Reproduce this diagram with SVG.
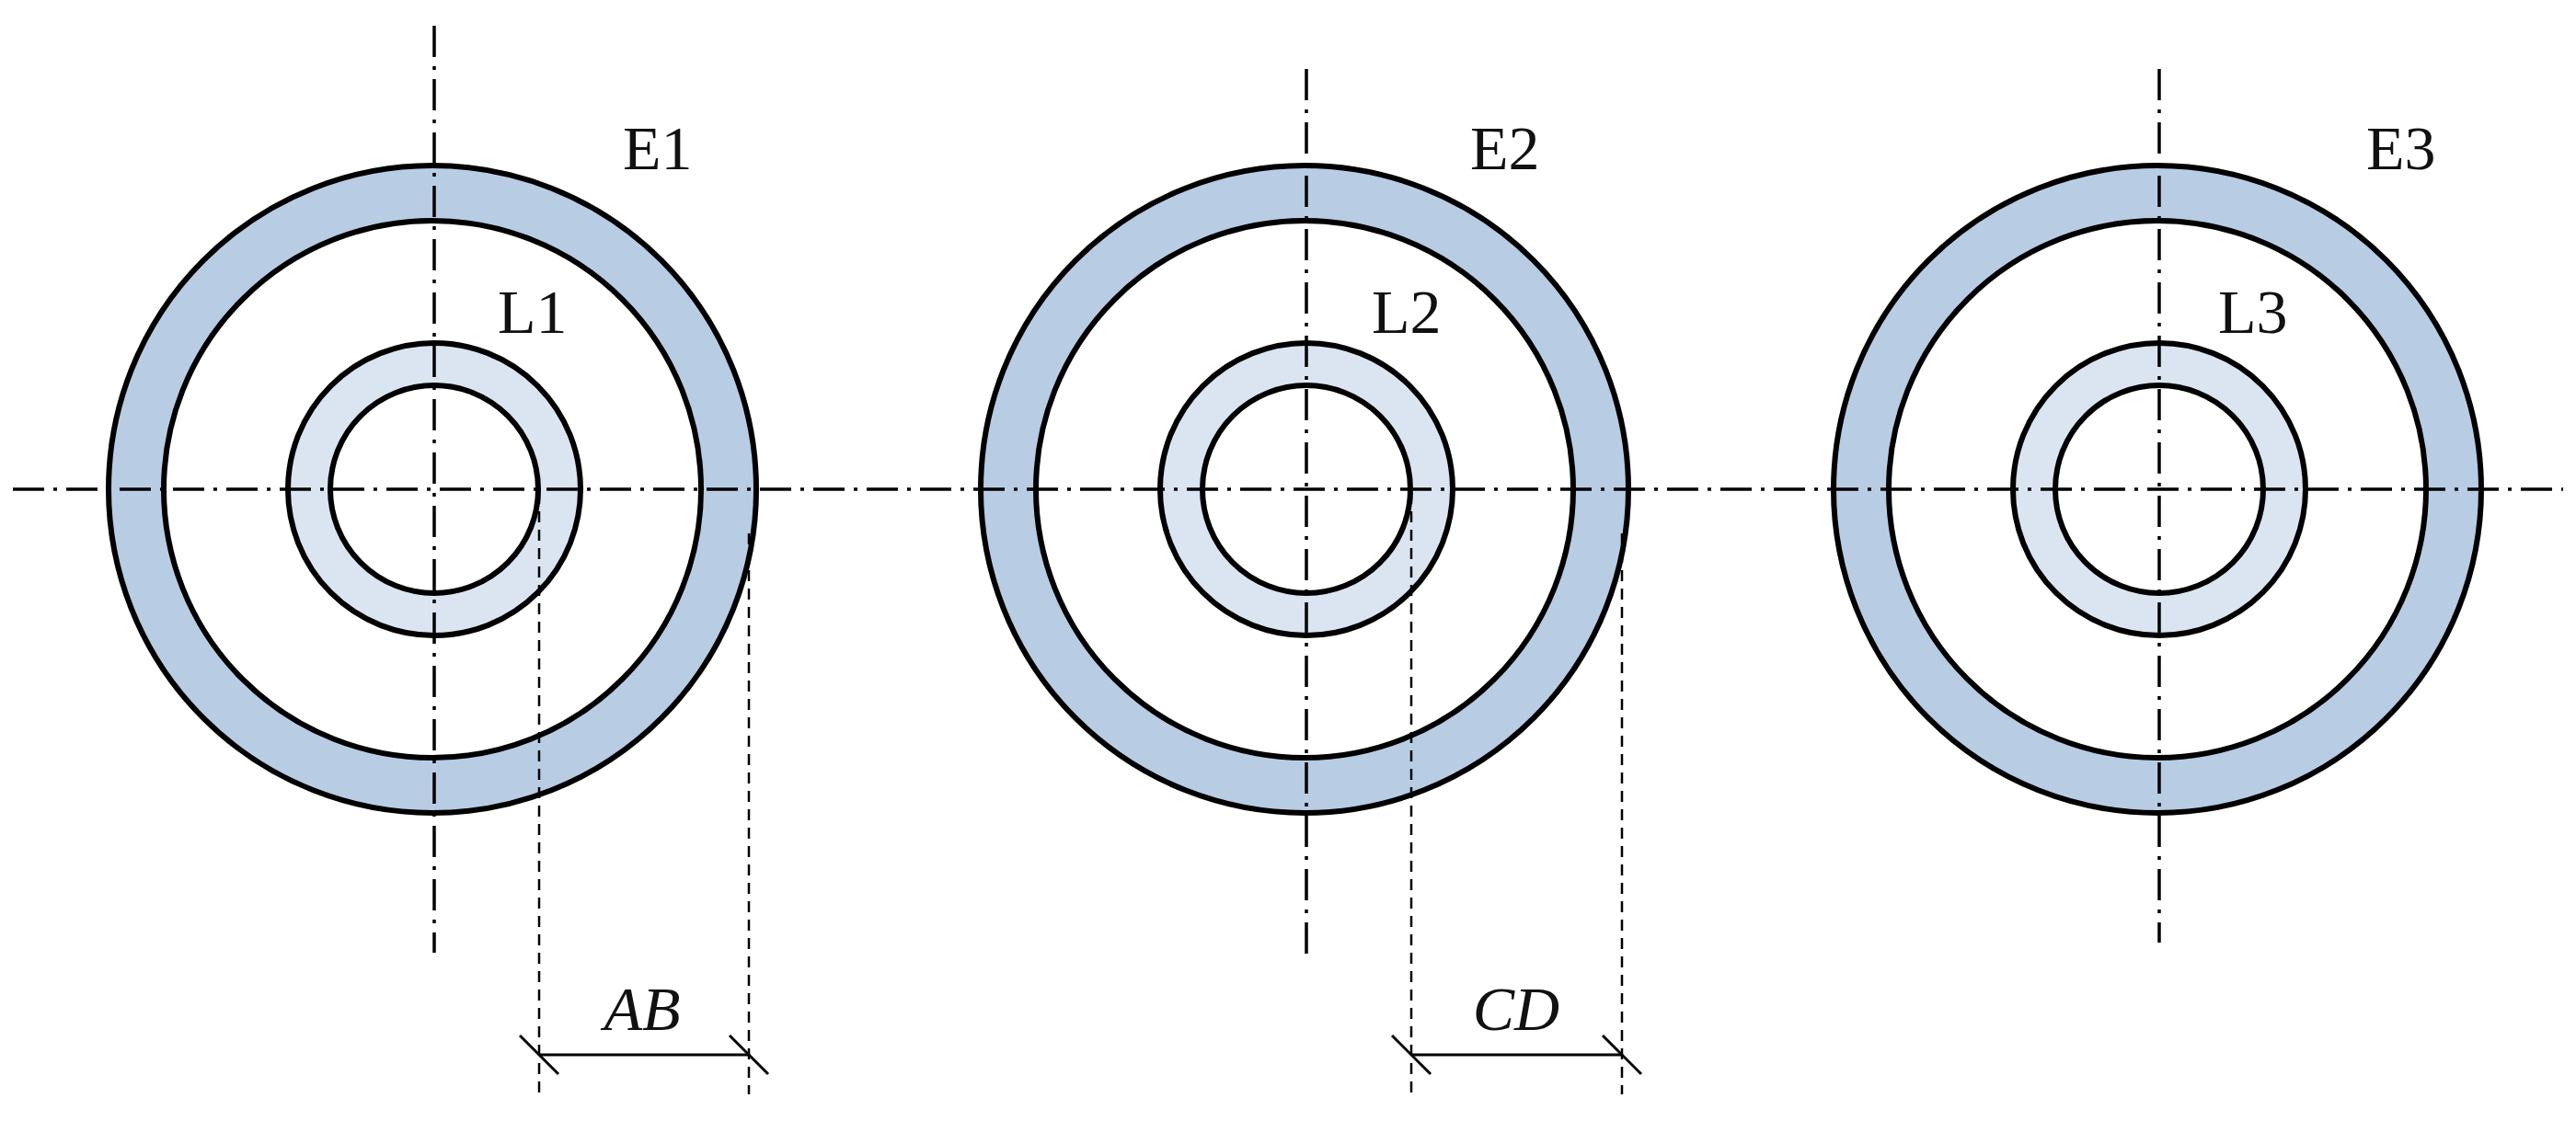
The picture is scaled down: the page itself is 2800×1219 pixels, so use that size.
<svg xmlns="http://www.w3.org/2000/svg" width="2800" height="1219" viewBox="0 0 2800 1219">
<style>
.o{fill:#b8cce4;stroke:#000;stroke-width:6}
.w{fill:#fff;stroke:#000;stroke-width:6}
.l{fill:#dbe5f1;stroke:#000;stroke-width:6}
.c{stroke:#000;stroke-width:3.5;stroke-dasharray:34 10 4 10;fill:none}
.d{stroke:#000;stroke-width:2.5;stroke-dasharray:12 8;fill:none}
.t{font-family:"Liberation Serif",serif;font-size:68px;fill:#111}
.i{font-family:"Liberation Serif",serif;font-size:68px;font-style:italic;fill:#111}
.s{stroke:#000;stroke-width:3;fill:none}
</style>
<g id="pipe1"><circle class="o" cx="470" cy="532" r="352"/><circle class="w" cx="470" cy="532" r="292"/><circle class="l" cx="472" cy="532" r="159"/><circle class="w" cx="472" cy="532" r="113"/><text class="t" x="677" y="184">E1</text><text class="t" x="541" y="362">L1</text></g>
<g id="pipe2"><circle class="o" cx="1418" cy="532" r="352"/><circle class="w" cx="1418" cy="532" r="292"/><circle class="l" cx="1420" cy="532" r="159"/><circle class="w" cx="1420" cy="532" r="113"/><text class="t" x="1598" y="184">E2</text><text class="t" x="1491" y="362">L2</text></g>
<g id="pipe3"><circle class="o" cx="2345" cy="532" r="352"/><circle class="w" cx="2345" cy="532" r="292"/><circle class="l" cx="2347" cy="532" r="159"/><circle class="w" cx="2347" cy="532" r="113"/><text class="t" x="2572" y="184">E3</text><text class="t" x="2411" y="362">L3</text></g>
<g id="connectors">
<line class="c" x1="14" y1="532" x2="2786" y2="532"/>
<line class="c" x1="472" y1="28" x2="472" y2="1036"/>
<line class="c" x1="1420" y1="75" x2="1420" y2="1045"/>
<line class="c" x1="2347" y1="75" x2="2347" y2="1025"/>
<line class="d" x1="586" y1="536" x2="586" y2="1190"/>
<line class="d" x1="814" y1="580" x2="814" y2="1190"/>
<line class="d" x1="1534" y1="536" x2="1534" y2="1190"/>
<line class="d" x1="1763" y1="580" x2="1763" y2="1190"/>
<line class="s" x1="586" y1="1147" x2="814" y2="1147"/>
<line class="s" x1="565" y1="1126" x2="607" y2="1168"/>
<line class="s" x1="793" y1="1126" x2="835" y2="1168"/>
<line class="s" x1="1534" y1="1147" x2="1763" y2="1147"/>
<line class="s" x1="1513" y1="1126" x2="1555" y2="1168"/>
<line class="s" x1="1742" y1="1126" x2="1784" y2="1168"/>
<text class="i" x="698" y="1120" text-anchor="middle">AB</text>
<text class="i" x="1648" y="1120" text-anchor="middle">CD</text>
</g>
</svg>
